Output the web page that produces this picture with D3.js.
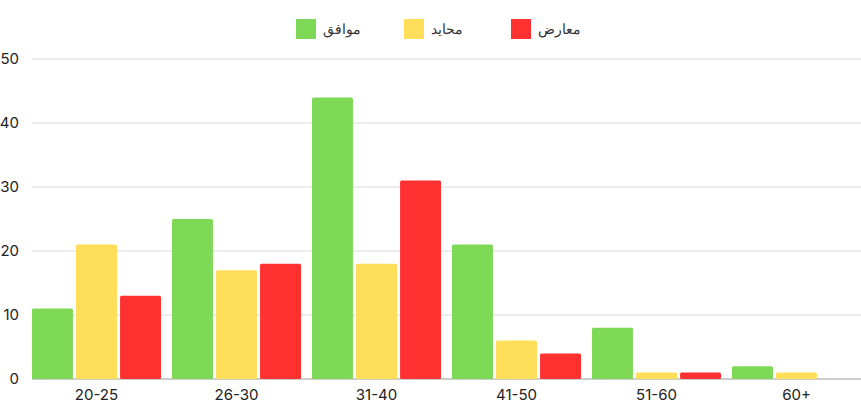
<!DOCTYPE html>
<html><head><meta charset="utf-8">
<script src="https://cdn.jsdelivr.net/npm/d3@7"></script>
<style>body{margin:0;background:#fff}text{font-family:Inter,"Noto Sans",sans-serif}</style>
</head><body>
<svg width="861" height="403"></svg>
<script>
const categories = ['20-25', '26-30', '31-40', '41-50', '51-60', '60+'];
const seriesNames = ['موافق', 'محايد', 'معارض'];
const agree = [11, 25, 44, 21, 8, 2];
const neutral = [21, 17, 18, 6, 1, 1];
const oppose = [13, 18, 31, 4, 1, 0];
const yTicks = [0, 10, 20, 30, 40, 50];
const colors = ['#7ed957', '#ffde59', '#ff3131'];

const svg = d3.select('svg');
const series = [agree, neutral, oppose];

const y = d3.scaleLinear().domain([0, 50]).range([379, 59]);
const x0 = d3.scaleBand().domain(categories).range([26.5, 866.5]);
const x1 = d3.scaleBand().domain(d3.range(3)).range([5.5, 134.5]).paddingInner(0.07);

// grid
svg.append('g').selectAll('line').data(yTicks).enter().append('line')
    .attr('x1', 32).attr('x2', 861)
    .attr('y1', d => y(d)).attr('y2', d => y(d))
    .attr('stroke', d => d === 0 ? '#999' : '#d9d9d9').attr('stroke-width', 1);

svg.append('g').selectAll('text').data(yTicks).enter().append('text')
    .attr('x', 19).attr('y', d => y(d) + 5)
    .attr('text-anchor', 'end').attr('font-size', 15).attr('fill', '#222')
    .text(d => d);

const g = svg.append('g').selectAll('g').data(categories).enter().append('g')
    .attr('transform', d => `translate(${x0(d)},0)`);

g.selectAll('rect').data((c, i) => series.map((s, k) => ({k, v: s[i]})))
    .enter().append('rect')
    .attr('x', d => x1(d.k))
    .attr('width', x1.bandwidth())
    .attr('y', d => y(d.v))
    .attr('height', d => y(0) - y(d.v))
    .attr('rx', 1.5)
    .attr('fill', d => colors[d.k]);

svg.append('g').selectAll('text').data(categories).enter().append('text')
    .attr('x', d => x0(d) + x0.bandwidth() / 2).attr('y', 400)
    .attr('text-anchor', 'middle').attr('font-size', 15).attr('fill', '#222')
    .text(d => d);

// legend
const legX = [296, 404, 511];
const leg = svg.append('g').selectAll('g').data(seriesNames).enter().append('g')
    .attr('transform', (d, i) => `translate(${legX[i]},19)`);
leg.append('rect').attr('width', 20).attr('height', 20).attr('fill', (d, i) => colors[i]);
leg.append('text').attr('x', 27).attr('y', 15).attr('font-size', 14)
    .attr('fill', '#333').attr('letter-spacing', 3)
    .attr('font-family', '"DejaVu Sans Mono", monospace')
    .text(d => d);
</script>
</body></html>
